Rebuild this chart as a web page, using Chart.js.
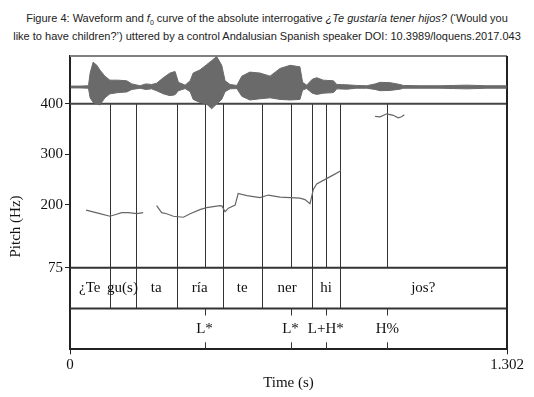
<!DOCTYPE html>
<html>
<head>
<meta charset="utf-8">
<script src="https://cdn.jsdelivr.net/npm/chart.js@4.4.0/dist/chart.umd.min.js"></script>
<style>
  body { margin: 0; background: #fff; }
  #wrap { position: relative; width: 534px; height: 397px; }
  #caption { position: absolute; left: 0; top: 9px; width: 534px; text-align: center;
    font-family: "Liberation Sans", Arial, sans-serif; font-size: 11px; line-height: 18px; color: #222; }
  #caption sub { font-size: 7px; line-height: 0; }
  canvas { position: absolute; left: 0; top: 0; }
</style>
</head>
<body>
<div id="wrap">
  <div id="caption">Figure 4: Waveform and <i>f</i><sub>0</sub> curve of the absolute interrogative <i>¿Te gustaría tener hijos?</i> (‘Would you<br>like to have children?’) uttered by a control Andalusian Spanish speaker DOI: 10.3989/loquens.2017.043</div>
  <canvas id="praatChart" width="534" height="397"></canvas>
</div>
<script>
// waveform envelope (relative amplitude, 1 = top of the waveform box)
const waveTimes = [
  0.002, 0.030, 0.055, 0.060, 0.069, 0.080, 0.089, 0.104, 0.119, 0.144,
  0.169, 0.184, 0.209, 0.226, 0.243, 0.258, 0.278, 0.298, 0.313, 0.323,
  0.343, 0.358, 0.367, 0.387, 0.407, 0.422, 0.437, 0.452, 0.462, 0.477,
  0.497, 0.512, 0.536, 0.566, 0.596, 0.626, 0.656, 0.685, 0.693, 0.705,
  0.722, 0.735, 0.755, 0.785, 0.795, 0.825, 0.854, 0.884, 0.909, 0.924,
  0.954, 0.983, 0.993, 1.043, 1.102, 1.142, 1.182, 1.242, 1.301
];
const waveUpper = [
  0.03, 0.03, 0.04, 0.45, 0.80, 0.70, 0.55, 0.35, 0.22, 0.22,
  0.20, 0.10, 0.04, 0.10, 0.08, 0.12, 0.30, 0.45, 0.50, 0.15,
  0.06, 0.20, 0.45, 0.55, 0.72, 0.85, 0.98, 0.70, 0.20, 0.08,
  0.05, 0.35, 0.48, 0.45, 0.35, 0.60, 0.70, 0.65, 0.15, 0.06,
  0.25, 0.30, 0.22, 0.20, 0.08, 0.07, 0.05, 0.04, 0.10, 0.15,
  0.14, 0.08, 0.05, 0.04, 0.04, 0.05, 0.06, 0.04, 0.04
];
const waveLower = [
  -0.03, -0.03, -0.04, -0.35, -0.50, -0.55, -0.58, -0.35, -0.22, -0.18,
  -0.16, -0.08, -0.04, -0.08, -0.06, -0.12, -0.22, -0.28, -0.25, -0.12,
  -0.05, -0.15, -0.40, -0.50, -0.55, -0.70, -0.55, -0.40, -0.15, -0.06,
  -0.05, -0.30, -0.42, -0.38, -0.35, -0.40, -0.42, -0.40, -0.10, -0.05,
  -0.20, -0.24, -0.20, -0.18, -0.06, -0.07, -0.04, -0.04, -0.08, -0.12,
  -0.11, -0.07, -0.04, -0.04, -0.04, -0.05, -0.06, -0.04, -0.04
];

// f0 track (Hz), null = unvoiced gap
const pitchTimes = [
  0.048, 0.089, 0.119, 0.134, 0.154, 0.174, 0.199, 0.218, 0.238,
  0.258, 0.273, 0.288, 0.308, 0.338, 0.358, 0.387, 0.407, 0.447, 0.453,
  0.462, 0.472, 0.492, 0.501, 0.527, 0.566, 0.591, 0.626, 0.656, 0.685,
  0.700, 0.715, 0.725, 0.735, 0.763, 0.785, 0.807, 0.858,
  0.909, 0.924, 0.944, 0.963, 0.978, 0.988, 0.996
];
const pitchHz = [
  189, 182, 177, 180, 184, 184, 182, 184, null,
  198, 184, 182, 177, 175, 182, 190, 194, 198, 197,
  186, 193, 199, 222, 218, 214, 219, 215, 214, 213,
  210, 202, 230, 241, 251, 259, 267, null,
  375, 374, 380, 377, 372, 374, 378
];
const pitchTicks = [75, 200, 300, 400];
const timeTicks = [0, 1.302];

// text grid
const syllables = ['¿Te', 'gu(s)', 'ta', 'ría', 'te', 'ner', 'hi', 'jos?'];
const syllableBounds = [0.1177, 0.1952, 0.3182, 0.4547, 0.5712, 0.7223, 0.803];
const tones = ['L*', 'L*', 'L+H*', 'H%'];
const toneTimes = [0.4008, 0.657, 0.7622, 0.9458];

const serif = '"Liberation Serif", "Times New Roman", serif';
Chart.defaults.font.family = serif;
Chart.defaults.font.size = 15;
Chart.defaults.color = '#111';

function seg(ctx, x1, y1, x2, y2) {
  ctx.beginPath();
  ctx.moveTo(x1, y1);
  ctx.lineTo(x2, y2);
  ctx.stroke();
}

const textGrid = {
  id: 'textGrid',
  beforeDatasetsDraw(chart) {
    const {ctx, chartArea: area, scales} = chart;
    const x = scales.x, pitch = scales.y, tier = scales.yTier;
    const yTop = pitch.getPixelForValue(pitch.max);
    const yBot = pitch.getPixelForValue(pitch.min);
    const yMid = tier.getPixelForValue(1);
    const yEnd = tier.getPixelForValue(0);
    const px = t => Math.round(x.getPixelForValue(t)) + 0.5;
    ctx.save();
    ctx.strokeStyle = '#333';
    ctx.lineWidth = 1;
    syllableBounds.concat(toneTimes).forEach(t => seg(ctx, px(t), yTop, px(t), yBot));
    syllableBounds.forEach(t => seg(ctx, px(t), yBot, px(t), yMid));
    toneTimes.forEach(t => {
      seg(ctx, px(t), yMid, px(t), yMid + 7);
      seg(ctx, px(t), yEnd - 7, px(t), yEnd);
    });
    ctx.lineWidth = 2;
    ctx.strokeStyle = '#808080';
    seg(ctx, area.left, area.top, area.right, area.top);
    ctx.strokeStyle = '#444';
    seg(ctx, area.left, yTop, area.right, yTop);
    ctx.strokeStyle = '#333';
    seg(ctx, area.left, yBot, area.right, yBot);
    seg(ctx, area.left, yMid, area.right, yMid);
    ctx.strokeStyle = '#222';
    seg(ctx, area.right, area.top, area.right, area.bottom);
    ctx.restore();
  },
  afterDatasetsDraw(chart) {
    const {ctx, scales} = chart;
    const x = scales.x, pitch = scales.y, tier = scales.yTier;
    const starts = [x.min].concat(syllableBounds);
    const ends = syllableBounds.concat([x.max]);
    ctx.save();
    ctx.font = '15px ' + serif;
    ctx.fillStyle = '#111';
    ctx.textAlign = 'center';
    ctx.textBaseline = 'middle';
    const y1 = tier.getPixelForValue(1.5);
    syllables.forEach((s, i) => {
      ctx.fillText(s, (x.getPixelForValue(starts[i]) + x.getPixelForValue(ends[i])) / 2, y1);
    });
    const y2 = tier.getPixelForValue(0.5);
    tones.forEach((s, i) => ctx.fillText(s, x.getPixelForValue(toneTimes[i]), y2));
    // vertical axis title, centred on pitch + tiers like Praat does
    const cy = (pitch.getPixelForValue(pitch.max) + tier.getPixelForValue(0)) / 2;
    ctx.translate(16.5, cy);
    ctx.rotate(-Math.PI / 2);
    ctx.fillText('Pitch (Hz)', 0, 0);
    ctx.restore();
  }
};

const ctx = document.getElementById('praatChart').getContext('2d');
new Chart(ctx, {
  type: 'line',
  data: {
    datasets: [
      {
        data: waveTimes.map((t, i) => ({x: t, y: waveUpper[i]})),
        yAxisID: 'yWave',
        borderColor: '#6a6a6a',
        backgroundColor: '#6a6a6a',
        borderWidth: 1,
        fill: '+1',
        pointRadius: 0
      },
      {
        data: waveTimes.map((t, i) => ({x: t, y: waveLower[i]})),
        yAxisID: 'yWave',
        borderColor: '#6a6a6a',
        borderWidth: 1,
        fill: false,
        pointRadius: 0
      },
      {
        data: pitchTimes.map((t, i) => ({x: t, y: pitchHz[i]})),
        yAxisID: 'y',
        borderColor: '#666',
        borderWidth: 1.2,
        fill: false,
        pointRadius: 0,
        spanGaps: false
      }
    ]
  },
  options: {
    responsive: false,
    animation: false,
    clip: false,
    layout: { padding: { top: 56, right: 27, bottom: 0, left: 0 } },
    plugins: { legend: { display: false }, tooltip: { enabled: false } },
    scales: {
      x: {
        type: 'linear',
        min: 0,
        max: 1.302,
        afterBuildTicks: s => { s.ticks = timeTicks.map(v => ({value: v})); },
        afterFit: s => { s.height = 47.7; },
        ticks: { padding: 2, maxRotation: 0, callback: v => String(v) },
        grid: { drawOnChartArea: false, tickLength: 5, color: '#222' },
        border: { color: '#222', width: 2 },
        title: { display: true, text: 'Time (s)', padding: { top: 0, bottom: 5 } }
      },
      yWave: {
        position: 'left',
        stack: 'praat',
        stackWeight: 47.7,
        weight: 3,
        min: -0.539,
        max: 1,
        ticks: { display: false },
        grid: { display: false },
        border: { color: '#222', width: 2 }
      },
      y: {
        position: 'left',
        stack: 'praat',
        stackWeight: 164,
        weight: 2,
        min: 75,
        max: 400,
        afterBuildTicks: s => { s.ticks = pitchTicks.map(v => ({value: v})); },
        afterFit: s => { s.width = 70; },
        ticks: { padding: 2, callback: v => String(v) },
        grid: { drawOnChartArea: false, tickLength: 5, color: '#222' },
        border: { color: '#222', width: 2 }
      },
      yTier: {
        position: 'left',
        stack: 'praat',
        stackWeight: 81.6,
        weight: 1,
        min: 0,
        max: 2,
        ticks: { display: false },
        grid: { display: false },
        border: { color: '#222', width: 2 }
      }
    }
  },
  plugins: [textGrid]
});
</script>
</body>
</html>
